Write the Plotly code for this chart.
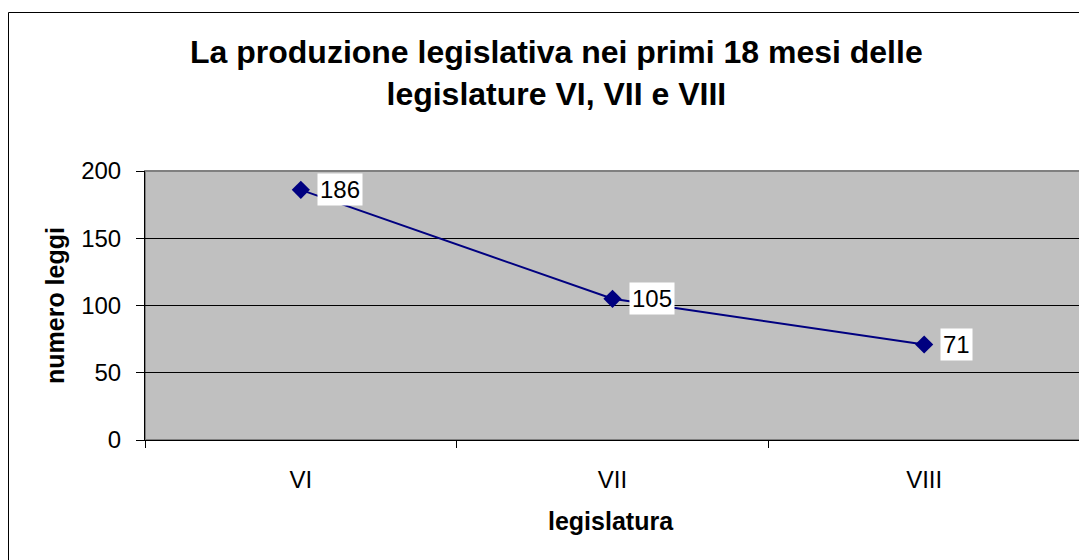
import plotly.graph_objects as go

categories = ["VI", "VII", "VIII"]
values = [186, 105, 71]
y_ticks = [0, 50, 100, 150, 200]

W, H = 1087, 560
# page offset of 8px (body margin) compensated
L, R, T, B = 137, 15, 163, 128
pw = W - L - R
ph = H - T - B

def px(xpage):
    return (xpage - 8 - L) / pw

def py(ypage):
    return (H - B - (ypage - 8)) / ph

FONT = "Liberation Sans, Arial"

fig = go.Figure()
fig.add_trace(go.Scatter(
    x=categories, y=values, mode="lines+markers",
    line=dict(color="#000080", width=2),
    marker=dict(symbol="diamond", size=14, color="#000080"),
    hoverinfo="skip", showlegend=False,
))

annotations = []
for c, v in zip(categories, values):
    annotations.append(dict(
        x=c, y=v, xref="x", yref="y", text=str(v), showarrow=False,
        xanchor="left", yanchor="middle", xshift=16, yshift=0,
        bgcolor="white", borderpad=2,
        font=dict(family=FONT, size=24, color="black"),
    ))

annotations.append(dict(
    x=px(556), y=py(73), xref="paper", yref="paper",
    text="La produzione legislativa nei primi 18 mesi delle<br>legislature VI, VII e VIII",
    showarrow=False, xanchor="center", yanchor="middle", align="center",
    font=dict(family=FONT, size=32, color="black", weight="bold"),
))
annotations.append(dict(
    x=px(611), y=py(521), xref="paper", yref="paper", text="legislatura",
    showarrow=False, xanchor="center", yanchor="middle",
    font=dict(family=FONT, size=25, color="black", weight="bold"),
))
annotations.append(dict(
    x=px(55), y=py(306), xref="paper", yref="paper", text="numero leggi",
    showarrow=False, xanchor="center", yanchor="middle", textangle=-90,
    font=dict(family=FONT, size=25, color="black", weight="bold"),
))

fig.update_layout(
    width=W, height=H,
    margin=dict(l=L, r=R, t=T, b=B),
    paper_bgcolor="white", plot_bgcolor="#C0C0C0",
    annotations=annotations,
    showlegend=False,
    shapes=[
        dict(type="rect", xref="paper", yref="paper",
             x0=0, x1=1, y0=0, y1=1, line=dict(color="#808080", width=2), layer="below"),
        dict(type="rect", xref="paper", yref="paper",
             x0=px(8.5), x1=px(1300), y0=py(800), y1=py(12.5),
             line=dict(color="black", width=1), layer="above"),
    ],
    xaxis=dict(
        type="category", range=[-0.5, 2.5], tickson="boundaries",
        ticks="outside", ticklen=7, tickcolor="black", tickwidth=1,
        ticklabelstandoff=18,
        showline=True, linecolor="black", linewidth=1,
        showgrid=False, zeroline=False,
        tickfont=dict(family=FONT, size=24, color="black"),
    ),
    yaxis=dict(
        range=[0, 200], tickvals=y_ticks,
        ticks="outside", ticklen=8, tickcolor="black", tickwidth=1,
        ticklabelstandoff=10,
        showline=True, linecolor="black", linewidth=1,
        showgrid=True, gridcolor="black", gridwidth=1, zeroline=False,
        tickfont=dict(family=FONT, size=24, color="black"),
    ),
)

fig.write_html("out.html")
